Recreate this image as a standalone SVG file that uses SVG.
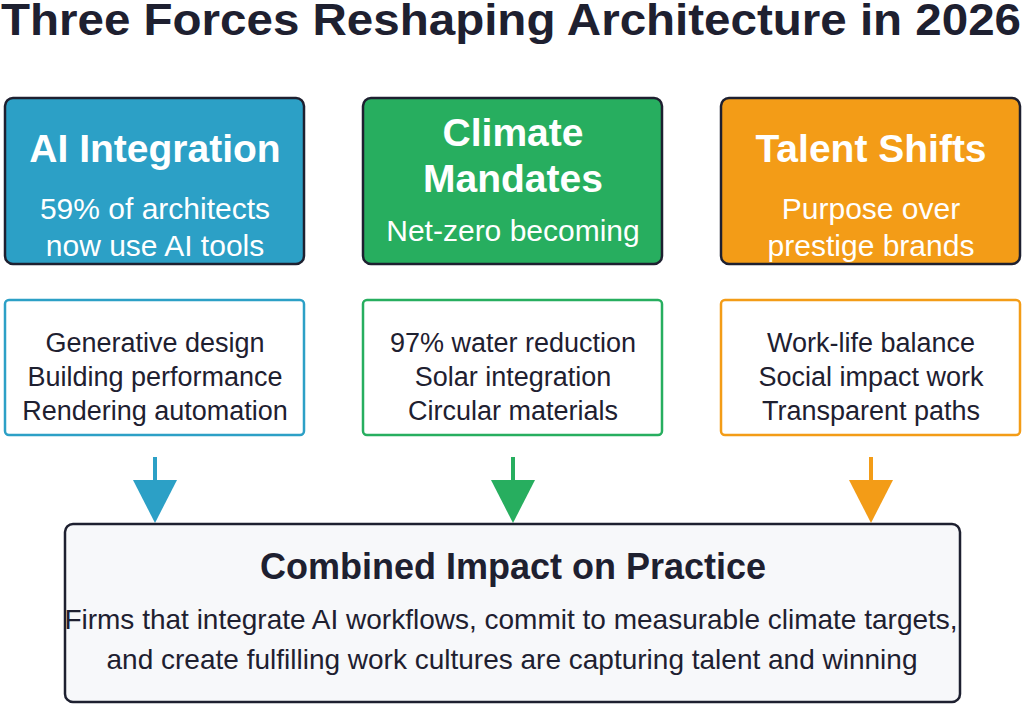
<svg xmlns="http://www.w3.org/2000/svg" width="1024" height="705" viewBox="0 0 1024 705">
<style>
text{font-family:"Liberation Sans",Arial,sans-serif;text-anchor:middle}
.title{font-size:44px;font-weight:bold;fill:#1e2030}
.hd{font-size:39px;font-weight:bold;fill:#ffffff}
.sub{font-size:30px;fill:#ffffff}
.item{font-size:27px;fill:#1e2030}
.top{stroke:#1e2030;stroke-width:2.5}
.det{fill:#ffffff;stroke-width:2.5}
.ch{font-size:36px;font-weight:bold;fill:#1e2030}
.cb{font-size:28px;fill:#1e2030}
</style>
<rect width="1024" height="705" fill="#ffffff"/>
<text class="title" x="511" y="35" textLength="1020" lengthAdjust="spacingAndGlyphs">Three Forces Reshaping Architecture in 2026</text>

<g id="ai">
<rect class="top" x="5" y="98" width="299" height="166" rx="8" fill="#2ca0c6"/>
<text class="hd" x="155" y="162">AI Integration</text>
<text class="sub" x="155" y="219">59% of architects</text>
<text class="sub" x="155" y="256">now use AI tools</text>
</g>
<g id="climate">
<rect class="top" x="363" y="98" width="299" height="166" rx="8" fill="#27ae5f"/>
<text class="hd" x="513" y="146">Climate</text>
<text class="hd" x="513" y="192">Mandates</text>
<text class="sub" x="513" y="241">Net-zero becoming</text>
</g>
<g id="talent">
<rect class="top" x="721" y="98" width="299" height="166" rx="8" fill="#f39c17"/>
<text class="hd" x="871" y="162">Talent Shifts</text>
<text class="sub" x="871" y="219">Purpose over</text>
<text class="sub" x="871" y="256">prestige brands</text>
</g>

<g id="ai-details">
<rect class="det" x="5" y="300" width="299" height="135" rx="4" stroke="#2ca0c6"/>
<text class="item" x="155" y="352">Generative design</text>
<text class="item" x="155" y="386">Building performance</text>
<text class="item" x="155" y="420">Rendering automation</text>
</g>
<g id="climate-details">
<rect class="det" x="363" y="300" width="299" height="135" rx="4" stroke="#27ae5f"/>
<text class="item" x="513" y="352">97% water reduction</text>
<text class="item" x="513" y="386">Solar integration</text>
<text class="item" x="513" y="420">Circular materials</text>
</g>
<g id="talent-details">
<rect class="det" x="721" y="300" width="299" height="135" rx="4" stroke="#f39c17"/>
<text class="item" x="871" y="352">Work-life balance</text>
<text class="item" x="871" y="386">Social impact work</text>
<text class="item" x="871" y="420">Transparent paths</text>
</g>

<g id="connectors">
<line x1="155" y1="457" x2="155" y2="482" stroke="#2ca0c6" stroke-width="4"/>
<polygon points="133,480 177,480 155,523" fill="#2ca0c6"/>
<line x1="513" y1="457" x2="513" y2="482" stroke="#27ae5f" stroke-width="4"/>
<polygon points="491,480 535,480 513,523" fill="#27ae5f"/>
<line x1="871" y1="457" x2="871" y2="482" stroke="#f39c17" stroke-width="4"/>
<polygon points="849,480 893,480 871,523" fill="#f39c17"/>
</g>

<g id="impact">
<rect x="65" y="524" width="895" height="178" rx="8" fill="#f7f8fa" stroke="#1e2030" stroke-width="2.5"/>
<text class="ch" x="513" y="579">Combined Impact on Practice</text>
<text class="cb" x="511" y="629">Firms that integrate AI workflows, commit to measurable climate targets,</text>
<text class="cb" x="512" y="669">and create fulfilling work cultures are capturing talent and winning</text>
</g>
</svg>
